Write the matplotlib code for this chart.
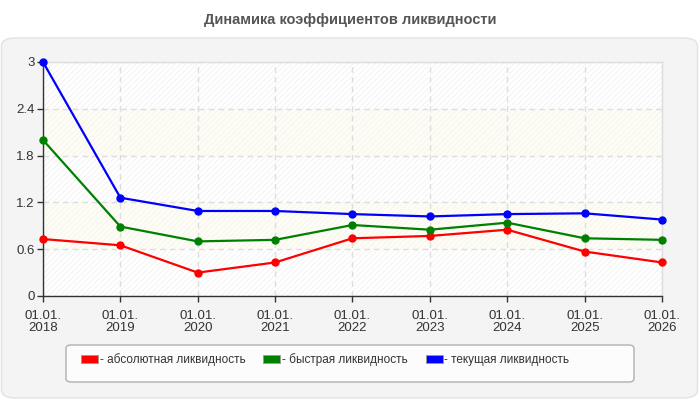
import matplotlib
matplotlib.use("Agg")
import matplotlib.pyplot as plt
from matplotlib.patches import FancyBboxPatch, Patch

plt.rcParams['font.family'] = ['Liberation Sans', 'DejaVu Sans']
plt.rcParams['hatch.linewidth'] = 0.5

years = ["2018", "2019", "2020", "2021", "2022", "2023", "2024", "2025", "2026"]
tick_labels = ["01.01.\n" + y for y in years]
absolute = [0.73, 0.65, 0.30, 0.43, 0.74, 0.77, 0.85, 0.57, 0.43]
quick = [2.00, 0.89, 0.70, 0.72, 0.91, 0.85, 0.94, 0.74, 0.72]
current = [3.00, 1.26, 1.09, 1.09, 1.05, 1.02, 1.05, 1.06, 0.98]
series_names = ["- абсолютная ликвидность", "- быстрая ликвидность", "- текущая ликвидность"]
colors = ["#ff0000", "#008000", "#0000ff"]
title = "Динамика коэффициентов ликвидности"

W, H = 700, 400
fig = plt.figure(figsize=(7, 4), dpi=100)
fig.patch.set_facecolor("white")

# outer panel
panel = FancyBboxPatch((1.5 / W, (H - 398) / H), 696 / W, 360 / H,
                       boxstyle="round,pad=0,rounding_size=0.02",
                       transform=fig.transFigure, facecolor="#f4f4f4",
                       edgecolor="#e2e2e2", linewidth=1, zorder=-3)
fig.patches.append(panel)

fig.text(0.5, 1 - 20 / H, title, ha="center", va="center",
         fontsize=10.5, fontweight="bold", color="#555555")

ax = fig.add_axes([43 / W, 1 - 296 / H, (662 - 43) / W, (296 - 62) / H])
ax.set_zorder(2)
ax.set_facecolor("white")
x = list(range(len(years)))

# background bands
bands = [(0, 0.6, False), (0.6, 1.2, True), (1.2, 1.8, False), (1.8, 2.4, True), (2.4, 3.0, False)]
for lo, hi, yellow in bands:
    if yellow:
        ax.axhspan(lo, hi, facecolor="#fdfdf6", edgecolor="#f4f4ec", hatch="//////", linewidth=0, zorder=0)
    else:
        ax.axhspan(lo, hi, facecolor="#ffffff", edgecolor="#efefef", hatch="//////", linewidth=0, zorder=0)

ax.set_xlim(0, len(years) - 1)
ax.set_ylim(0, 3)
ax.set_yticks([0, 0.6, 1.2, 1.8, 2.4, 3])
ax.set_yticklabels(["0", "0.6", "1.2", "1.8", "2.4", "3"])
ax.set_xticks(x)
ax.set_xticklabels(tick_labels, linespacing=1.05)

ax.grid(True, color="#dddddd", linestyle=(0, (4, 3)), linewidth=1, zorder=1)
for s in ["top", "right"]:
    ax.spines[s].set_color("#dddddd")
    ax.spines[s].set_linewidth(1)
for s in ["left", "bottom"]:
    ax.spines[s].set_color("#333333")
    ax.spines[s].set_linewidth(1)
ax.tick_params(axis="both", colors="#333333", labelsize=9.5, length=4, width=1, direction="out", pad=2)
ax.tick_params(axis="x", pad=6)

for vals, c in zip([absolute, quick, current], colors):
    ax.plot(x, vals, color=c, linewidth=1.6, marker="o", markersize=5, zorder=3, clip_on=False)

# legend box
lb = FancyBboxPatch((66 / W, 1 - 382 / H), (634 - 66) / W, 37 / H,
                    boxstyle="round,pad=0,rounding_size=0.008",
                    transform=fig.transFigure, facecolor="#fcfcfc",
                    edgecolor="#b0b0b0", linewidth=1, zorder=-2)
fig.patches.append(lb)
handles = [Patch(facecolor=c, edgecolor="#999999", linewidth=0.6) for c in colors]
fig.legend(handles, series_names, loc="center left", bbox_to_anchor=(75 / W, 1 - 360 / H),
           ncol=3, frameon=False, fontsize=8.5, handlelength=1.45, handleheight=0.7,
           handletextpad=0.15, columnspacing=1.5, labelcolor="#333333", borderpad=0)

fig.savefig("out.png", dpi=100)
